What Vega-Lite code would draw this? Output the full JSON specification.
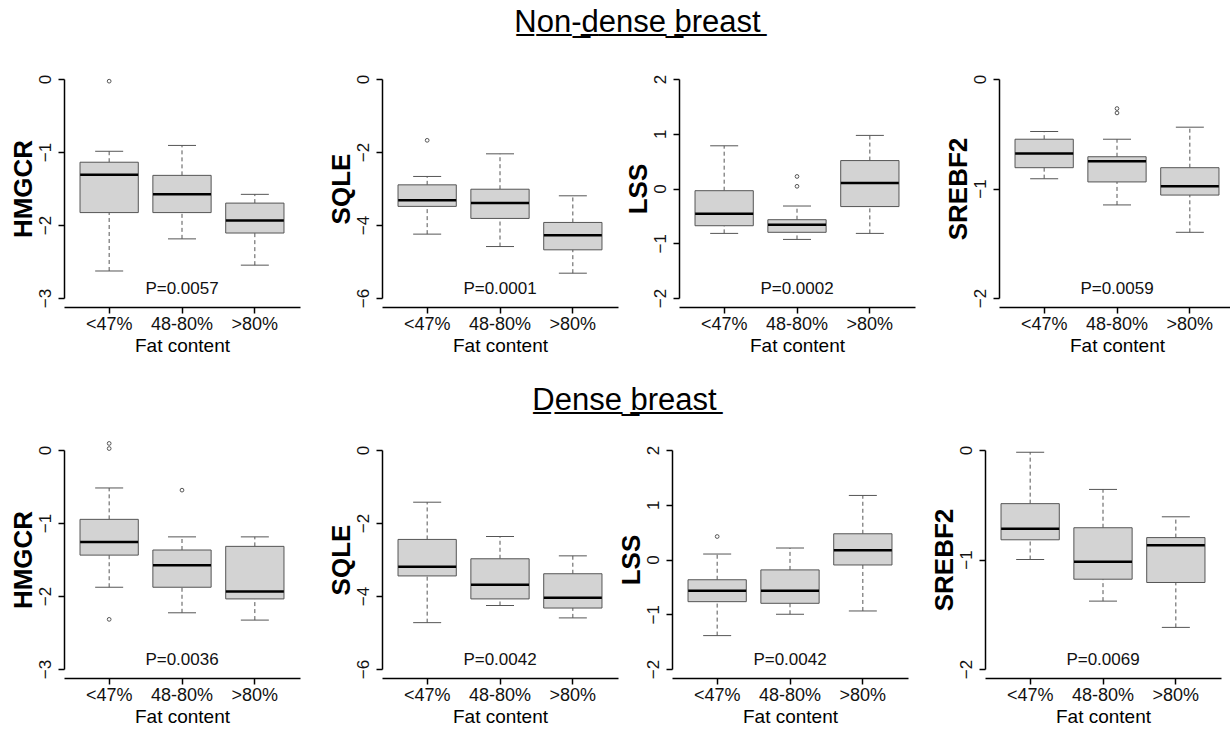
{
  "$schema": "https://vega.github.io/schema/vega-lite/v6.json",
  "padding": {"left": 10, "top": 7, "right": 0, "bottom": 0},
  "datasets": {
    "boxes": [
      {"d": "Non-dense", "g": "HMGCR", "grp": "<47%", "lo": -2.63, "q1": -1.83, "med": -1.31, "q3": -1.14, "hi": -0.99},
      {"d": "Non-dense", "g": "HMGCR", "grp": "48-80%", "lo": -2.19, "q1": -1.83, "med": -1.58, "q3": -1.32, "hi": -0.91},
      {"d": "Non-dense", "g": "HMGCR", "grp": ">80%", "lo": -2.55, "q1": -2.11, "med": -1.94, "q3": -1.70, "hi": -1.58},
      {"d": "Non-dense", "g": "SQLE", "grp": "<47%", "lo": -4.25, "q1": -3.49, "med": -3.32, "q3": -2.90, "hi": -2.67},
      {"d": "Non-dense", "g": "SQLE", "grp": "48-80%", "lo": -4.59, "q1": -3.82, "med": -3.40, "q3": -3.02, "hi": -2.05},
      {"d": "Non-dense", "g": "SQLE", "grp": ">80%", "lo": -5.32, "q1": -4.68, "med": -4.28, "q3": -3.93, "hi": -3.20},
      {"d": "Non-dense", "g": "LSS", "grp": "<47%", "lo": -0.82, "q1": -0.68, "med": -0.46, "q3": -0.04, "hi": 0.78},
      {"d": "Non-dense", "g": "LSS", "grp": "48-80%", "lo": -0.93, "q1": -0.80, "med": -0.66, "q3": -0.57, "hi": -0.32},
      {"d": "Non-dense", "g": "LSS", "grp": ">80%", "lo": -0.82, "q1": -0.33, "med": 0.10, "q3": 0.51, "hi": 0.97},
      {"d": "Non-dense", "g": "SREBF2", "grp": "<47%", "lo": -0.91, "q1": -0.81, "med": -0.68, "q3": -0.55, "hi": -0.48},
      {"d": "Non-dense", "g": "SREBF2", "grp": "48-80%", "lo": -1.15, "q1": -0.94, "med": -0.75, "q3": -0.71, "hi": -0.55},
      {"d": "Non-dense", "g": "SREBF2", "grp": ">80%", "lo": -1.40, "q1": -1.06, "med": -0.98, "q3": -0.81, "hi": -0.44},
      {"d": "Dense", "g": "HMGCR", "grp": "<47%", "lo": -1.88, "q1": -1.44, "med": -1.26, "q3": -0.95, "hi": -0.52},
      {"d": "Dense", "g": "HMGCR", "grp": "48-80%", "lo": -2.23, "q1": -1.88, "med": -1.58, "q3": -1.37, "hi": -1.19},
      {"d": "Dense", "g": "HMGCR", "grp": ">80%", "lo": -2.33, "q1": -2.04, "med": -1.94, "q3": -1.32, "hi": -1.19},
      {"d": "Dense", "g": "SQLE", "grp": "<47%", "lo": -4.73, "q1": -3.45, "med": -3.20, "q3": -2.45, "hi": -1.43},
      {"d": "Dense", "g": "SQLE", "grp": "48-80%", "lo": -4.26, "q1": -4.08, "med": -3.69, "q3": -2.98, "hi": -2.37},
      {"d": "Dense", "g": "SQLE", "grp": ">80%", "lo": -4.60, "q1": -4.33, "med": -4.05, "q3": -3.39, "hi": -2.90},
      {"d": "Dense", "g": "LSS", "grp": "<47%", "lo": -1.39, "q1": -0.77, "med": -0.57, "q3": -0.37, "hi": 0.10},
      {"d": "Dense", "g": "LSS", "grp": "48-80%", "lo": -1.00, "q1": -0.80, "med": -0.57, "q3": -0.19, "hi": 0.21},
      {"d": "Dense", "g": "LSS", "grp": ">80%", "lo": -0.94, "q1": -0.10, "med": 0.17, "q3": 0.47, "hi": 1.17},
      {"d": "Dense", "g": "SREBF2", "grp": "<47%", "lo": -1.00, "q1": -0.82, "med": -0.72, "q3": -0.49, "hi": -0.02},
      {"d": "Dense", "g": "SREBF2", "grp": "48-80%", "lo": -1.38, "q1": -1.18, "med": -1.02, "q3": -0.71, "hi": -0.36},
      {"d": "Dense", "g": "SREBF2", "grp": ">80%", "lo": -1.62, "q1": -1.21, "med": -0.87, "q3": -0.80, "hi": -0.61}
    ],
    "outliers": [
      {"d": "Non-dense", "g": "HMGCR", "grp": "<47%", "v": -0.03},
      {"d": "Non-dense", "g": "SQLE", "grp": "<47%", "v": -1.68},
      {"d": "Non-dense", "g": "LSS", "grp": "48-80%", "v": 0.04},
      {"d": "Non-dense", "g": "LSS", "grp": "48-80%", "v": 0.22},
      {"d": "Non-dense", "g": "SREBF2", "grp": "48-80%", "v": -0.27},
      {"d": "Non-dense", "g": "SREBF2", "grp": "48-80%", "v": -0.31},
      {"d": "Dense", "g": "HMGCR", "grp": "<47%", "v": 0.09},
      {"d": "Dense", "g": "HMGCR", "grp": "<47%", "v": 0.02},
      {"d": "Dense", "g": "HMGCR", "grp": "<47%", "v": -2.32},
      {"d": "Dense", "g": "HMGCR", "grp": "48-80%", "v": -0.55},
      {"d": "Dense", "g": "LSS", "grp": "<47%", "v": 0.42}
    ],
    "pvals": [
      {"d": "Non-dense", "g": "HMGCR", "p": "P=0.0057"},
      {"d": "Non-dense", "g": "SQLE", "p": "P=0.0001"},
      {"d": "Non-dense", "g": "LSS", "p": "P=0.0002"},
      {"d": "Non-dense", "g": "SREBF2", "p": "P=0.0059"},
      {"d": "Dense", "g": "HMGCR", "p": "P=0.0036"},
      {"d": "Dense", "g": "SQLE", "p": "P=0.0042"},
      {"d": "Dense", "g": "LSS", "p": "P=0.0042"},
      {"d": "Dense", "g": "SREBF2", "p": "P=0.0069"}
    ]
  },
  "vconcat": [
    {
      "title": {"text": "N\u0332o\u0332n\u0332-\u0332d\u0332e\u0332n\u0332s\u0332e\u0332 \u0332b\u0332r\u0332e\u0332a\u0332s\u0332t\u0332", "dx": 15, "offset": 35},
      "spacing": 7,
      "hconcat": [
        {"spacing": 28, "hconcat": [
          {"width": 236, "height": 219, "data": {"name": "boxes"},
           "transform": [{"filter": "datum.d==='Non-dense' && datum.g==='HMGCR'"}],
           "encoding": {"x": {"field": "grp", "type": "nominal", "scale": {"domain": ["<47%", "48-80%", ">80%"], "paddingInner": 0.2, "paddingOuter": 0.22}, "axis": {"title": "Fat content"}}},
           "layer": [
             {"mark": "rule", "encoding": {"y": {"field": "lo", "type": "quantitative", "scale": {"domain": [-3, 0], "nice": false, "zero": false}, "axis": {"title": "HMGCR", "values": [-3, -2, -1, 0]}}, "y2": {"field": "q1"}}},
             {"mark": "rule", "encoding": {"y": {"field": "q3", "type": "quantitative"}, "y2": {"field": "hi"}}},
             {"mark": "tick", "encoding": {"y": {"field": "lo", "type": "quantitative"}}},
             {"mark": "tick", "encoding": {"y": {"field": "hi", "type": "quantitative"}}},
             {"mark": "bar", "encoding": {"y": {"field": "q1", "type": "quantitative"}, "y2": {"field": "q3"}}},
             {"mark": {"type": "tick", "size": 58, "thickness": 2.5, "color": "#000"}, "encoding": {"y": {"field": "med", "type": "quantitative"}}},
             {"data": {"name": "outliers"}, "transform": [{"filter": "datum.d==='Non-dense' && datum.g==='HMGCR'"}], "mark": "point", "encoding": {"y": {"field": "v", "type": "quantitative"}}},
             {"data": {"name": "pvals"}, "transform": [{"filter": "datum.d==='Non-dense' && datum.g==='HMGCR'"}], "mark": "text", "encoding": {"x": {"datum": "48-80%"}, "y": {"datum": -3}, "text": {"field": "p"}}}
           ]},
          {"width": 236, "height": 219, "data": {"name": "boxes"},
           "transform": [{"filter": "datum.d==='Non-dense' && datum.g==='SQLE'"}],
           "encoding": {"x": {"field": "grp", "type": "nominal", "scale": {"domain": ["<47%", "48-80%", ">80%"], "paddingInner": 0.2, "paddingOuter": 0.22}, "axis": {"title": "Fat content"}}},
           "layer": [
             {"mark": "rule", "encoding": {"y": {"field": "lo", "type": "quantitative", "scale": {"domain": [-6, 0], "nice": false, "zero": false}, "axis": {"title": "SQLE", "values": [-6, -4, -2, 0]}}, "y2": {"field": "q1"}}},
             {"mark": "rule", "encoding": {"y": {"field": "q3", "type": "quantitative"}, "y2": {"field": "hi"}}},
             {"mark": "tick", "encoding": {"y": {"field": "lo", "type": "quantitative"}}},
             {"mark": "tick", "encoding": {"y": {"field": "hi", "type": "quantitative"}}},
             {"mark": "bar", "encoding": {"y": {"field": "q1", "type": "quantitative"}, "y2": {"field": "q3"}}},
             {"mark": {"type": "tick", "size": 58, "thickness": 2.5, "color": "#000"}, "encoding": {"y": {"field": "med", "type": "quantitative"}}},
             {"data": {"name": "outliers"}, "transform": [{"filter": "datum.d==='Non-dense' && datum.g==='SQLE'"}], "mark": "point", "encoding": {"y": {"field": "v", "type": "quantitative"}}},
             {"data": {"name": "pvals"}, "transform": [{"filter": "datum.d==='Non-dense' && datum.g==='SQLE'"}], "mark": "text", "encoding": {"x": {"datum": "48-80%"}, "y": {"datum": -6}, "text": {"field": "p"}}}
           ]}
        ]},
        {"spacing": 30, "hconcat": [
          {"width": 236, "height": 219, "data": {"name": "boxes"},
           "transform": [{"filter": "datum.d==='Non-dense' && datum.g==='LSS'"}],
           "encoding": {"x": {"field": "grp", "type": "nominal", "scale": {"domain": ["<47%", "48-80%", ">80%"], "paddingInner": 0.2, "paddingOuter": 0.22}, "axis": {"title": "Fat content"}}},
           "layer": [
             {"mark": "rule", "encoding": {"y": {"field": "lo", "type": "quantitative", "scale": {"domain": [-2, 2], "nice": false, "zero": false}, "axis": {"title": "LSS", "values": [-2, -1, 0, 1, 2]}}, "y2": {"field": "q1"}}},
             {"mark": "rule", "encoding": {"y": {"field": "q3", "type": "quantitative"}, "y2": {"field": "hi"}}},
             {"mark": "tick", "encoding": {"y": {"field": "lo", "type": "quantitative"}}},
             {"mark": "tick", "encoding": {"y": {"field": "hi", "type": "quantitative"}}},
             {"mark": "bar", "encoding": {"y": {"field": "q1", "type": "quantitative"}, "y2": {"field": "q3"}}},
             {"mark": {"type": "tick", "size": 58, "thickness": 2.5, "color": "#000"}, "encoding": {"y": {"field": "med", "type": "quantitative"}}},
             {"data": {"name": "outliers"}, "transform": [{"filter": "datum.d==='Non-dense' && datum.g==='LSS'"}], "mark": "point", "encoding": {"y": {"field": "v", "type": "quantitative"}}},
             {"data": {"name": "pvals"}, "transform": [{"filter": "datum.d==='Non-dense' && datum.g==='LSS'"}], "mark": "text", "encoding": {"x": {"datum": "48-80%"}, "y": {"datum": -2}, "text": {"field": "p"}}}
           ]},
          {"width": 236, "height": 219, "data": {"name": "boxes"},
           "transform": [{"filter": "datum.d==='Non-dense' && datum.g==='SREBF2'"}],
           "encoding": {"x": {"field": "grp", "type": "nominal", "scale": {"domain": ["<47%", "48-80%", ">80%"], "paddingInner": 0.2, "paddingOuter": 0.22}, "axis": {"title": "Fat content"}}},
           "layer": [
             {"mark": "rule", "encoding": {"y": {"field": "lo", "type": "quantitative", "scale": {"domain": [-2, 0], "nice": false, "zero": false}, "axis": {"title": "SREBF2", "values": [-2, -1, 0]}}, "y2": {"field": "q1"}}},
             {"mark": "rule", "encoding": {"y": {"field": "q3", "type": "quantitative"}, "y2": {"field": "hi"}}},
             {"mark": "tick", "encoding": {"y": {"field": "lo", "type": "quantitative"}}},
             {"mark": "tick", "encoding": {"y": {"field": "hi", "type": "quantitative"}}},
             {"mark": "bar", "encoding": {"y": {"field": "q1", "type": "quantitative"}, "y2": {"field": "q3"}}},
             {"mark": {"type": "tick", "size": 58, "thickness": 2.5, "color": "#000"}, "encoding": {"y": {"field": "med", "type": "quantitative"}}},
             {"data": {"name": "outliers"}, "transform": [{"filter": "datum.d==='Non-dense' && datum.g==='SREBF2'"}], "mark": "point", "encoding": {"y": {"field": "v", "type": "quantitative"}}},
             {"data": {"name": "pvals"}, "transform": [{"filter": "datum.d==='Non-dense' && datum.g==='SREBF2'"}], "mark": "text", "encoding": {"x": {"datum": "48-80%"}, "y": {"datum": -2}, "text": {"field": "p"}}}
           ]}
        ]}
      ]
    },
    {
      "title": {"text": "D\u0332e\u0332n\u0332s\u0332e\u0332 \u0332b\u0332r\u0332e\u0332a\u0332s\u0332t\u0332", "dx": 9, "offset": 23},
      "spacing": 0,
      "hconcat": [
        {"spacing": 28, "hconcat": [
          {"width": 236, "height": 219, "data": {"name": "boxes"},
           "transform": [{"filter": "datum.d==='Dense' && datum.g==='HMGCR'"}],
           "encoding": {"x": {"field": "grp", "type": "nominal", "scale": {"domain": ["<47%", "48-80%", ">80%"], "paddingInner": 0.2, "paddingOuter": 0.22}, "axis": {"title": "Fat content"}}},
           "layer": [
             {"mark": "rule", "encoding": {"y": {"field": "lo", "type": "quantitative", "scale": {"domain": [-3, 0], "nice": false, "zero": false}, "axis": {"title": "HMGCR", "values": [-3, -2, -1, 0]}}, "y2": {"field": "q1"}}},
             {"mark": "rule", "encoding": {"y": {"field": "q3", "type": "quantitative"}, "y2": {"field": "hi"}}},
             {"mark": "tick", "encoding": {"y": {"field": "lo", "type": "quantitative"}}},
             {"mark": "tick", "encoding": {"y": {"field": "hi", "type": "quantitative"}}},
             {"mark": "bar", "encoding": {"y": {"field": "q1", "type": "quantitative"}, "y2": {"field": "q3"}}},
             {"mark": {"type": "tick", "size": 58, "thickness": 2.5, "color": "#000"}, "encoding": {"y": {"field": "med", "type": "quantitative"}}},
             {"data": {"name": "outliers"}, "transform": [{"filter": "datum.d==='Dense' && datum.g==='HMGCR'"}], "mark": "point", "encoding": {"y": {"field": "v", "type": "quantitative"}}},
             {"data": {"name": "pvals"}, "transform": [{"filter": "datum.d==='Dense' && datum.g==='HMGCR'"}], "mark": "text", "encoding": {"x": {"datum": "48-80%"}, "y": {"datum": -3}, "text": {"field": "p"}}}
           ]},
          {"width": 236, "height": 219, "data": {"name": "boxes"},
           "transform": [{"filter": "datum.d==='Dense' && datum.g==='SQLE'"}],
           "encoding": {"x": {"field": "grp", "type": "nominal", "scale": {"domain": ["<47%", "48-80%", ">80%"], "paddingInner": 0.2, "paddingOuter": 0.22}, "axis": {"title": "Fat content"}}},
           "layer": [
             {"mark": "rule", "encoding": {"y": {"field": "lo", "type": "quantitative", "scale": {"domain": [-6, 0], "nice": false, "zero": false}, "axis": {"title": "SQLE", "values": [-6, -4, -2, 0]}}, "y2": {"field": "q1"}}},
             {"mark": "rule", "encoding": {"y": {"field": "q3", "type": "quantitative"}, "y2": {"field": "hi"}}},
             {"mark": "tick", "encoding": {"y": {"field": "lo", "type": "quantitative"}}},
             {"mark": "tick", "encoding": {"y": {"field": "hi", "type": "quantitative"}}},
             {"mark": "bar", "encoding": {"y": {"field": "q1", "type": "quantitative"}, "y2": {"field": "q3"}}},
             {"mark": {"type": "tick", "size": 58, "thickness": 2.5, "color": "#000"}, "encoding": {"y": {"field": "med", "type": "quantitative"}}},
             {"data": {"name": "outliers"}, "transform": [{"filter": "datum.d==='Dense' && datum.g==='SQLE'"}], "mark": "point", "encoding": {"y": {"field": "v", "type": "quantitative"}}},
             {"data": {"name": "pvals"}, "transform": [{"filter": "datum.d==='Dense' && datum.g==='SQLE'"}], "mark": "text", "encoding": {"x": {"datum": "48-80%"}, "y": {"datum": -6}, "text": {"field": "p"}}}
           ]}
        ]},
        {"spacing": 23, "hconcat": [
          {"width": 236, "height": 219, "data": {"name": "boxes"},
           "transform": [{"filter": "datum.d==='Dense' && datum.g==='LSS'"}],
           "encoding": {"x": {"field": "grp", "type": "nominal", "scale": {"domain": ["<47%", "48-80%", ">80%"], "paddingInner": 0.2, "paddingOuter": 0.22}, "axis": {"title": "Fat content"}}},
           "layer": [
             {"mark": "rule", "encoding": {"y": {"field": "lo", "type": "quantitative", "scale": {"domain": [-2, 2], "nice": false, "zero": false}, "axis": {"title": "LSS", "values": [-2, -1, 0, 1, 2]}}, "y2": {"field": "q1"}}},
             {"mark": "rule", "encoding": {"y": {"field": "q3", "type": "quantitative"}, "y2": {"field": "hi"}}},
             {"mark": "tick", "encoding": {"y": {"field": "lo", "type": "quantitative"}}},
             {"mark": "tick", "encoding": {"y": {"field": "hi", "type": "quantitative"}}},
             {"mark": "bar", "encoding": {"y": {"field": "q1", "type": "quantitative"}, "y2": {"field": "q3"}}},
             {"mark": {"type": "tick", "size": 58, "thickness": 2.5, "color": "#000"}, "encoding": {"y": {"field": "med", "type": "quantitative"}}},
             {"data": {"name": "outliers"}, "transform": [{"filter": "datum.d==='Dense' && datum.g==='LSS'"}], "mark": "point", "encoding": {"y": {"field": "v", "type": "quantitative"}}},
             {"data": {"name": "pvals"}, "transform": [{"filter": "datum.d==='Dense' && datum.g==='LSS'"}], "mark": "text", "encoding": {"x": {"datum": "48-80%"}, "y": {"datum": -2}, "text": {"field": "p"}}}
           ]},
          {"width": 236, "height": 219, "data": {"name": "boxes"},
           "transform": [{"filter": "datum.d==='Dense' && datum.g==='SREBF2'"}],
           "encoding": {"x": {"field": "grp", "type": "nominal", "scale": {"domain": ["<47%", "48-80%", ">80%"], "paddingInner": 0.2, "paddingOuter": 0.22}, "axis": {"title": "Fat content"}}},
           "layer": [
             {"mark": "rule", "encoding": {"y": {"field": "lo", "type": "quantitative", "scale": {"domain": [-2, 0], "nice": false, "zero": false}, "axis": {"title": "SREBF2", "values": [-2, -1, 0]}}, "y2": {"field": "q1"}}},
             {"mark": "rule", "encoding": {"y": {"field": "q3", "type": "quantitative"}, "y2": {"field": "hi"}}},
             {"mark": "tick", "encoding": {"y": {"field": "lo", "type": "quantitative"}}},
             {"mark": "tick", "encoding": {"y": {"field": "hi", "type": "quantitative"}}},
             {"mark": "bar", "encoding": {"y": {"field": "q1", "type": "quantitative"}, "y2": {"field": "q3"}}},
             {"mark": {"type": "tick", "size": 58, "thickness": 2.5, "color": "#000"}, "encoding": {"y": {"field": "med", "type": "quantitative"}}},
             {"data": {"name": "outliers"}, "transform": [{"filter": "datum.d==='Dense' && datum.g==='SREBF2'"}], "mark": "point", "encoding": {"y": {"field": "v", "type": "quantitative"}}},
             {"data": {"name": "pvals"}, "transform": [{"filter": "datum.d==='Dense' && datum.g==='SREBF2'"}], "mark": "text", "encoding": {"x": {"datum": "48-80%"}, "y": {"datum": -2}, "text": {"field": "p"}}}
           ]}
        ]}
      ]
    }
  ],
  "spacing": 29,
  "config": {
    "font": "Liberation Sans",
    "view": {"stroke": null},
    "title": {"fontSize": 31, "fontWeight": "normal", "color": "#000", "anchor": "middle", "font": "Liberation Sans"},
    "rule": {"strokeDash": [4, 3], "color": "#555", "strokeWidth": 1},
    "tick": {"color": "#555", "thickness": 1, "size": 28, "opacity": 1},
    "bar": {"fill": "#d3d3d3", "stroke": "#555", "strokeWidth": 1, "opacity": 1},
    "point": {"shape": "circle", "filled": false, "size": 14, "color": "#555", "strokeWidth": 1, "opacity": 1},
    "text": {"fontSize": 17, "baseline": "bottom", "align": "center", "color": "#111"},
    "axis": {"grid": false, "domainColor": "#000", "domainWidth": 1.5, "tickColor": "#000", "tickWidth": 1.5, "tickSize": 6, "labelFontSize": 18, "labelColor": "#111", "titleColor": "#000", "labelFont": "Liberation Sans", "titleFont": "Liberation Sans"},
    "axisX": {"offset": 9, "labelAngle": 0, "labelPadding": 2, "titleFontSize": 19, "titleFontWeight": "normal", "titlePadding": 3, "bandPosition": 0.5},
    "axisY": {"format": "d", "labelAngle": 270, "labelAlign": "center", "labelBaseline": "alphabetic", "labelPadding": 8, "labelFontSize": 17, "titleFontSize": 26, "titleFontWeight": "bold", "titlePadding": 0}
  }
}
